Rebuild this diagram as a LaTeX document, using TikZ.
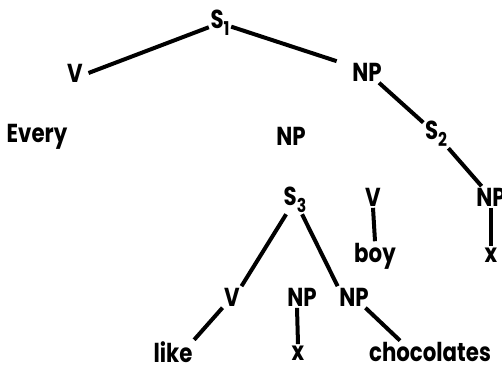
\documentclass[tikz,border=0pt]{standalone}
\usepackage{fontspec}
\setmainfont{Poppins}[FakeStretch=0.82]
\usepackage{tikz}
\usetikzlibrary{positioning}
\tikzstyle{word} = [font=\bfseries\fontsize{26}{30}\selectfont, inner sep=1.5pt]
\tikzstyle{line} = [draw, line width=4pt]
\newcommand{\lowidx}[1]{\raisebox{-0.45ex}{\fontsize{19}{22}\selectfont #1}}

\begin{document}
\begin{tikzpicture}[x=1pt, y=-1pt]
    \useasboundingbox (0,0) rectangle (502,366);
    % Nodes
    \node [word] (s1) at (220,23) {S\lowidx{1}};
    \node [word] (v1) at (75,73) {V};
    \node [word] (np1) at (367,72) {NP};
    \node [word] (every) at (37,137) {Every};
    \node [word] (np2) at (291,136) {NP};
    \node [word] (s2) at (436,134) {S\lowidx{2}};
    \node [word] (np3) at (491,197) {NP};
    \node [word] (x2) at (491,255) {x};
    \node [word] (s3) at (295,200) {S\lowidx{3}};
    \node [word] (v2) at (373,197) {V};
    \node [word] (boy) at (375,256) {boy};
    \node [word] (v3) at (232,297) {V};
    \node [word] (np4) at (302,297) {NP};
    \node [word] (np5) at (354,297) {NP};
    \node [word] (like) at (173,352) {like};
    \node [word] (x1) at (298,353) {x};
    \node [word] (choc) at (430,352) {chocolates};
    % Edges
    \path [line] (s1) -- ([xshift=4pt]v1.east);
    \path [line] (s1) -- ([xshift=-14pt]np1.north west);
    \path [line] (np1) -- (s2);
    \path [line] (s2) -- (np3);
    \path [line] (np3.south) -- (x2.north);
    \path [line] (v2.south) -- (boy.north);
    \path [line] (s3) -- (v3.north east);
    \path [line] (s3) -- (np5.north west);
    \path [line] (v3) -- (like.north east);
    \path [line] ([xshift=-5pt]np4.south) -- (x1.north);
    \path [line] (np5) -- ([xshift=-30pt]choc.north);
\end{tikzpicture}
\end{document}
